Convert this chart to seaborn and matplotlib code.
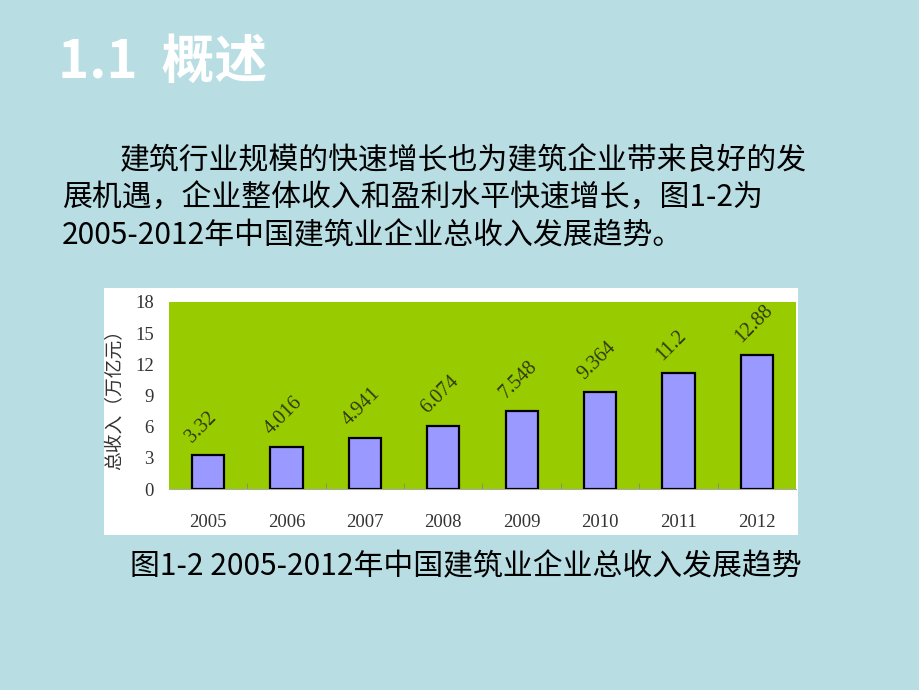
import matplotlib
matplotlib.use("Agg")
import matplotlib.pyplot as plt
import seaborn as sns
import pandas as pd

years = ["2005", "2006", "2007", "2008", "2009", "2010", "2011", "2012"]
revenue = [3.32, 4.016, 4.941, 6.074, 7.548, 9.364, 11.2, 12.88]
value_labels = ["3.32", "4.016", "4.941", "6.074", "7.548", "9.364", "11.2", "12.88"]
yticks = [0, 3, 6, 9, 12, 15, 18]

title = "1.1  概述"
para_lines = ["建筑行业规模的快速增长也为建筑企业带来良好的发",
              "展机遇，企业整体收入和盈利水平快速增长，图1-2为",
              "2005-2012年中国建筑业企业总收入发展趋势。"]
ylabel = "总收入（万亿元）"
caption = "图1-2 2005-2012年中国建筑业企业总收入发展趋势"

df = pd.DataFrame({"year": years, "revenue": revenue})

W, H = 920, 690
fig = plt.figure(figsize=(W / 100, H / 100), dpi=100)
fig.patch.set_facecolor("#B8DDE3")

cjk = ["Noto Sans CJK SC", "DejaVu Sans"]
serif = ["Liberation Serif", "Noto Sans CJK SC"]

def fx(px):
    return px / W

def fy(py):
    return 1 - py / H

# white chart panel (background axes)
panel = fig.add_axes([fx(104), fy(535), fx(798) - fx(104), fy(288) - fy(535)], zorder=-5)
panel.set_facecolor("white")
panel.set_xticks([])
panel.set_yticks([])
for s in panel.spines.values():
    s.set_visible(False)

fig.text(fx(58), fy(62), title, family=cjk, fontsize=38, fontweight="bold",
         color="white", va="center", ha="left")
fig.text(fx(120), fy(161), para_lines[0], family=cjk, fontsize=21.5, color="black",
         va="center", ha="left")
fig.text(fx(62), fy(198), para_lines[1], family=cjk, fontsize=21.5, color="black",
         va="center", ha="left")
fig.text(fx(62), fy(236), para_lines[2], family=cjk, fontsize=21.5, color="black",
         va="center", ha="left")
fig.text(fx(130), fy(567), caption, family=cjk, fontsize=21.5, color="black",
         va="center", ha="left")

ax = fig.add_axes([fx(169), fy(489), fx(796) - fx(169), fy(302) - fy(489)], zorder=1)
ax.set_facecolor("#99CC00")
sns.barplot(data=df, x="year", y="revenue", color="#9999FF", saturation=1,
            edgecolor="black", linewidth=1.6, width=0.41, ax=ax, zorder=3)
ax.set_xlim(-0.5, len(years) - 0.5)
ax.set_ylim(0, 18)
ax.set_yticks(yticks)
ax.set_yticklabels([str(t) for t in yticks], family=serif, fontsize=13.5, color="#333333")
ax.set_xticks(range(len(years)))
ax.set_xticklabels(years, family=serif, fontsize=13.5, color="#333333")
ax.tick_params(axis="x", length=0, pad=18)
ax.tick_params(axis="y", length=0, pad=11)
ax.set_xticks([i + 0.5 for i in range(len(years) - 1)], minor=True)
ax.tick_params(axis="x", which="minor", length=4, color="#888888", direction="in")
for s in ["top", "right", "left"]:
    ax.spines[s].set_visible(False)
ax.spines["bottom"].set_color("#aaaaaa")
ax.spines["bottom"].set_linewidth(0.8)
ax.set_xlabel("")
ax.set_ylabel(ylabel, family=cjk, fontsize=13.5, color="#333333")
ax.yaxis.set_label_coords(-0.07, 0.5)

for i, (v, lab) in enumerate(zip(revenue, value_labels)):
    ax.text(i - 0.16, v + 0.8, lab, rotation=45, rotation_mode="anchor",
            ha="left", va="bottom", family=serif, fontsize=14.5, color="#2f3a12",
            zorder=4)

fig.savefig("out.png", dpi=100, facecolor=fig.get_facecolor())
